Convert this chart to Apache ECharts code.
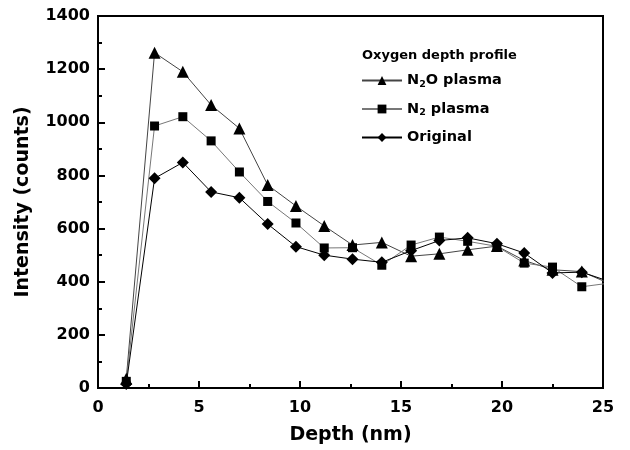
<!DOCTYPE html>
<html>
<head>
<meta charset="utf-8">
<script src="https://cdn.jsdelivr.net/npm/echarts@6/dist/echarts.min.js"></script>
<style>
  html, body { margin: 0; padding: 0; background: #fff; }
  #chart { width: 630px; height: 450px; }
</style>
</head>
<body>
<div id="chart"></div>
<script>
// depth (nm) of each sputter step
const depth = [1.4, 2.8, 4.2, 5.6, 7.0, 8.4, 9.8, 11.2, 12.6, 14.05, 15.5, 16.9, 18.3, 19.75, 21.1, 22.5, 23.95, 25.35];
const n2oPlasma = [35, 1262, 1190, 1065, 977, 764, 685, 610, 538, 548, 496, 505, 520, 534, 480, 445, 438, 392];
const n2Plasma = [25, 986, 1021, 930, 813, 702, 621, 527, 528, 462, 538, 568, 552, 533, 470, 455, 381, 395];
const original = [15, 789, 849, 738, 716, 617, 532, 500, 485, 473, 517, 555, 565, 543, 508, 433, 436, 400];

const seriesNames = ['N2O', 'N2', 'Original'];

const font = 'DejaVu Sans, Arial, sans-serif';
const chart = echarts.init(document.getElementById('chart'));

const zip = arr => depth.map((d, i) => [d, arr[i]]);

const mkSeries = (name, data, symbol, lineColor, size) => ({
    name: name,
    type: 'line',
    data: zip(data),
    symbol: symbol,
    symbolSize: size,
    clip: true,
    lineStyle: { color: lineColor, width: 1 },
    itemStyle: { color: '#000' },
    emphasis: { disabled: true }
});

const tickFont = { fontFamily: font, fontSize: 16, fontWeight: 'bold', color: '#000' };
const titleFont = { fontFamily: font, fontSize: 19, fontWeight: 'bold', color: '#000' };

chart.setOption({
    animation: false,
    backgroundColor: '#fff',
    title: {
        text: 'Oxygen depth profile',
        left: 357,
        top: 44,
        textStyle: { fontFamily: font, fontSize: 13, fontWeight: 'bold', color: '#000' }
    },
    legend: {
        orient: 'vertical',
        left: 356,
        top: 68,
        itemWidth: 40,
        itemHeight: 11,
        itemGap: 12,
        data: seriesNames,
        formatter: name => {
            if (name === 'N2O') return 'N{sub|2}O plasma';
            if (name === 'N2') return 'N{sub|2} plasma';
            return name;
        },
        textStyle: {
            fontFamily: font, fontSize: 14.5, fontWeight: 'bold', color: '#000',
            rich: {
                sub: { fontFamily: font, fontSize: 9.5, fontWeight: 'bold', color: '#000', verticalAlign: 'bottom', padding: [8, 0, 0, 0] }
            }
        }
    },
    grid: {
        left: 98, right: 27, top: 16, bottom: 62,
        show: true,
        borderColor: '#000',
        borderWidth: 2,
        backgroundColor: 'transparent'
    },
    xAxis: {
        type: 'value',
        min: 0, max: 25, interval: 5,
        name: 'Depth (nm)',
        nameLocation: 'middle',
        nameGap: 38,
        nameTextStyle: titleFont,
        axisLine: { show: true, onZero: false, lineStyle: { color: '#000', width: 2 } },
        axisTick: { show: true, inside: true, length: 7, lineStyle: { color: '#000', width: 2 } },
        minorTick: { show: true, splitNumber: 2, length: 4, lineStyle: { color: '#000', width: 2 } },
        splitLine: { show: false },
        axisLabel: Object.assign({ margin: 12 }, tickFont)
    },
    yAxis: {
        type: 'value',
        min: 0, max: 1400, interval: 200,
        name: 'Intensity (counts)',
        nameLocation: 'middle',
        nameGap: 65,
        nameTextStyle: titleFont,
        axisLine: { show: true, lineStyle: { color: '#000', width: 2 } },
        axisTick: { show: true, inside: true, length: 7, lineStyle: { color: '#000', width: 2 } },
        minorTick: { show: true, splitNumber: 2, length: 4, lineStyle: { color: '#000', width: 2 } },
        splitLine: { show: false },
        axisLabel: Object.assign({ margin: 8, formatter: v => String(v) }, tickFont)
    },
    series: [
        mkSeries('N2O', n2oPlasma, 'triangle', '#444', 12),
        mkSeries('N2', n2Plasma, 'rect', '#777', 9),
        mkSeries('Original', original, 'diamond', '#000', 12)
    ]
});
</script>
</body>
</html>
